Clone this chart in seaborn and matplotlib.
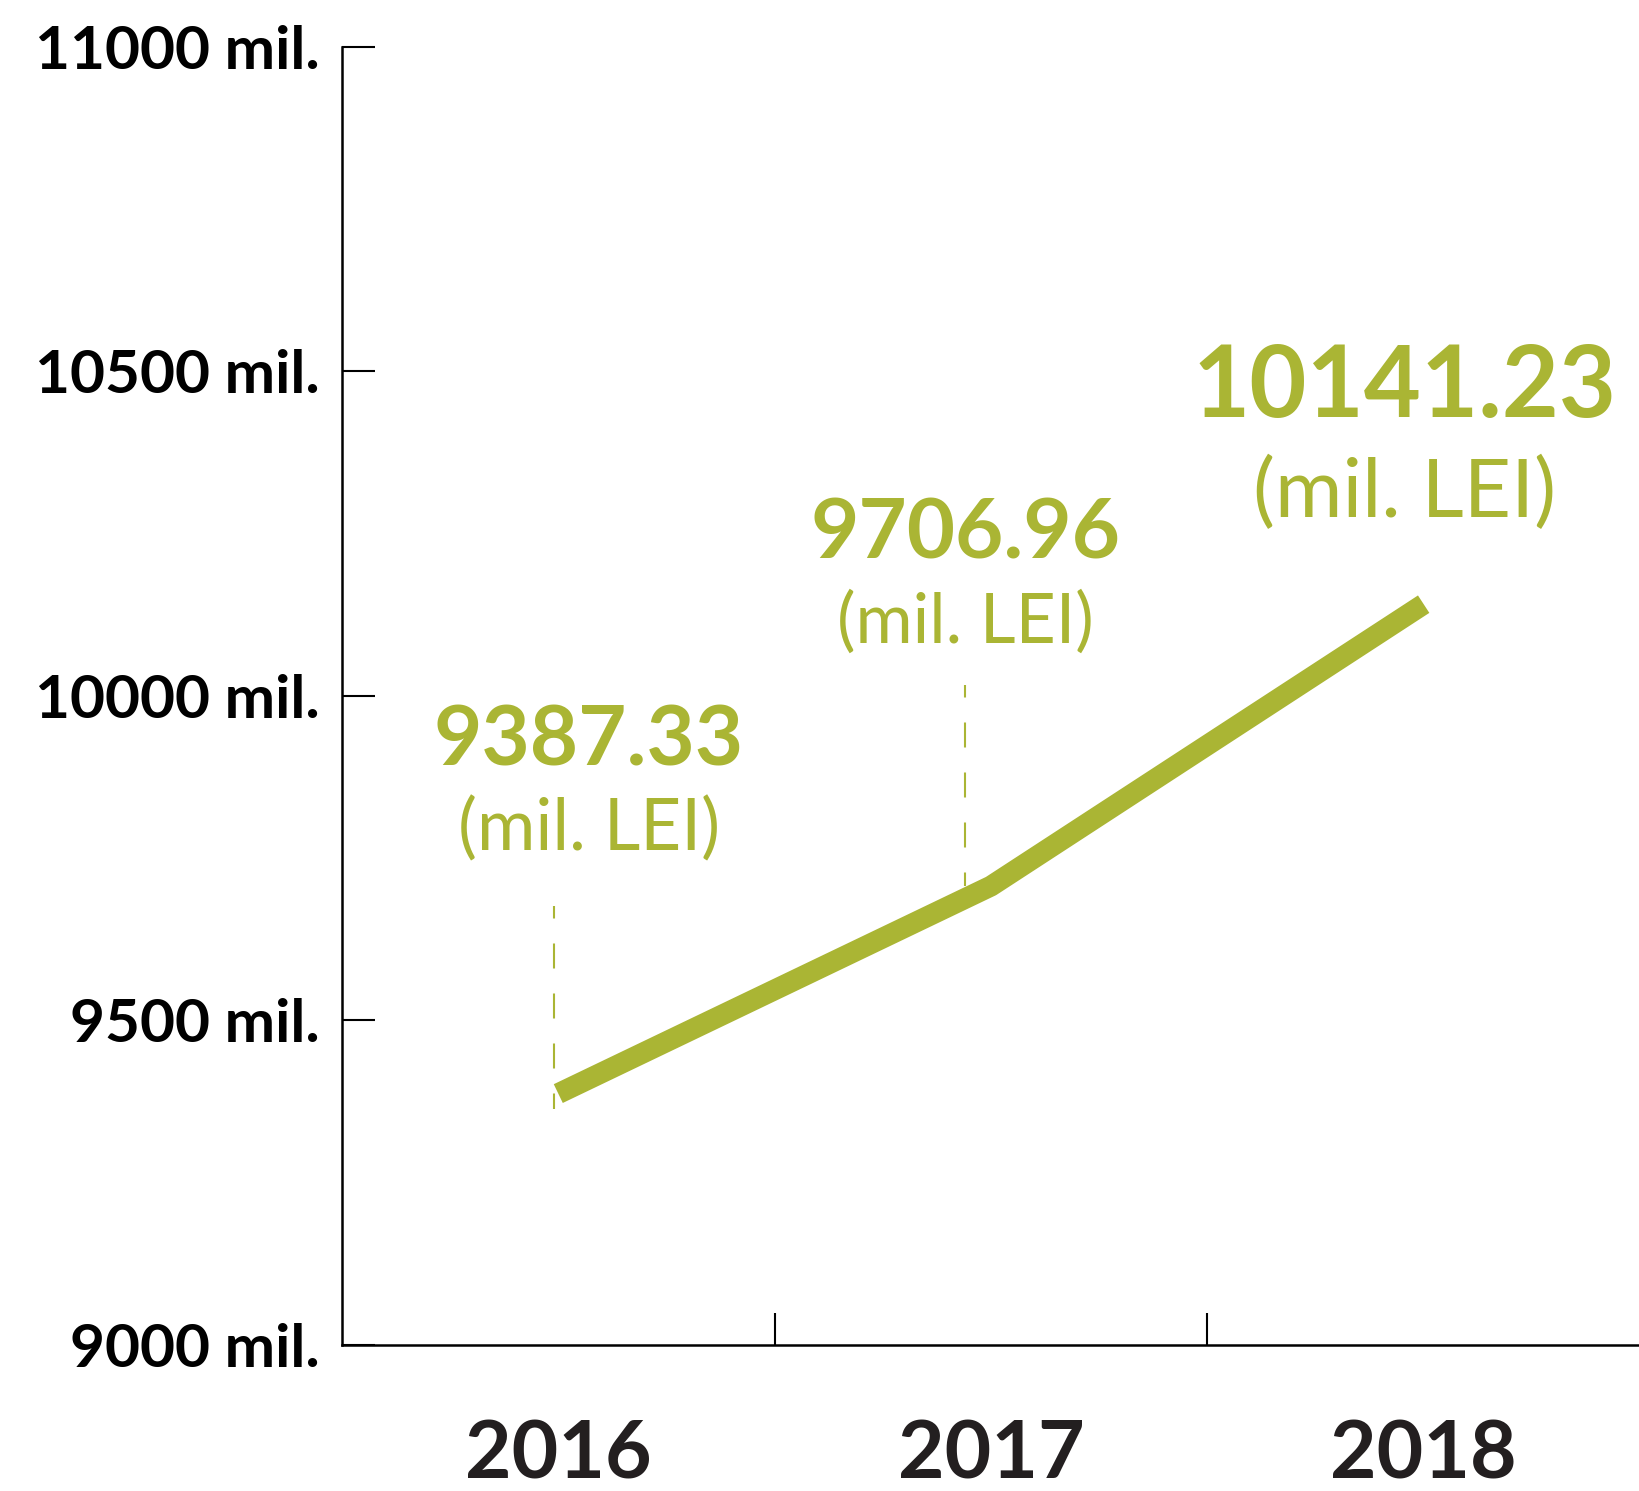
import seaborn as sns
import matplotlib.pyplot as plt
import pandas as pd

# --- data ---
years = ["2016", "2017", "2018"]
values = [9387.33, 9706.96, 10141.23]
value_labels = ["9387.33", "9706.96", "10141.23"]
unit_label = "(mil. LEI)"
y_ticks = [9000, 9500, 10000, 10500, 11000]
y_tick_labels = ["9000 mil.", "9500 mil.", "10000 mil.", "10500 mil.", "11000 mil."]

# --- annotation placement (data coords) ---
label_x = [0.07, 0.94, 1.955]
value_base = [9892, 10211, 10429]
unit_base = [9762, 10082, 10275]
value_size = [60, 60, 71]
unit_size = [51, 50, 59]
guide_x = [-0.01, 0.94]
guide_top = [9677, 10017]
guide_bottom = [9364, 9707]

GREEN = "#AAB534"
DARK = "#231F20"

sns.set_style("white")
plt.rcParams["font.family"] = ["Lato", "DejaVu Sans"]
plt.rcParams["lines.scale_dashes"] = False

df = pd.DataFrame({"pos": range(len(years)), "value": values})

fig = plt.figure(figsize=(16.4, 14.91), dpi=100)
ax = fig.add_axes([0.2085, 0.0979, 0.7915, 0.8708])

sns.lineplot(data=df, x="pos", y="value", ax=ax, color=GREEN, lw=15,
             solid_capstyle="butt", solid_joinstyle="round", zorder=3)

# dashed guides under the first two labels
for gx, gt, gb in zip(guide_x, guide_top, guide_bottom):
    ax.plot([gx, gx], [gt, gb], color=GREEN, lw=1.5, ls=(9, (18, 18)), zorder=2)

# value labels
for x, v, vb, ub, vs, us in zip(label_x, value_labels, value_base, unit_base, value_size, unit_size):
    ax.text(x, vb, v, ha="center", va="baseline", fontsize=vs, fontweight="bold", color=GREEN)
    ax.text(x, ub, unit_label, ha="center", va="baseline", fontsize=us, color=GREEN)

ax.set_xlim(-0.5, 2.5)
ax.set_ylim(9000, 11000)
ax.set_xlabel("")
ax.set_ylabel("")

ax.set_yticks(y_ticks)
ax.set_yticklabels(y_tick_labels, fontsize=43.5, fontweight="bold", color="black")
ax.tick_params(axis="y", left=True, direction="in", length=24, width=1.5, pad=16,
               colors="black")

ax.set_xticks(range(len(years)))
ax.set_xticklabels(years, fontsize=58, fontweight="bold", color=DARK)
ax.set_xticks([0.5, 1.5], minor=True)
ax.tick_params(axis="x", which="major", bottom=True, length=0, pad=53)
ax.tick_params(axis="x", which="minor", bottom=True, direction="in", length=23,
               width=1.5, color="black")

for side in ["top", "right"]:
    ax.spines[side].set_visible(False)
for side in ["left", "bottom"]:
    ax.spines[side].set_color("black")
    ax.spines[side].set_linewidth(1.8)

fig.savefig("out.png", dpi=100, facecolor="white")
